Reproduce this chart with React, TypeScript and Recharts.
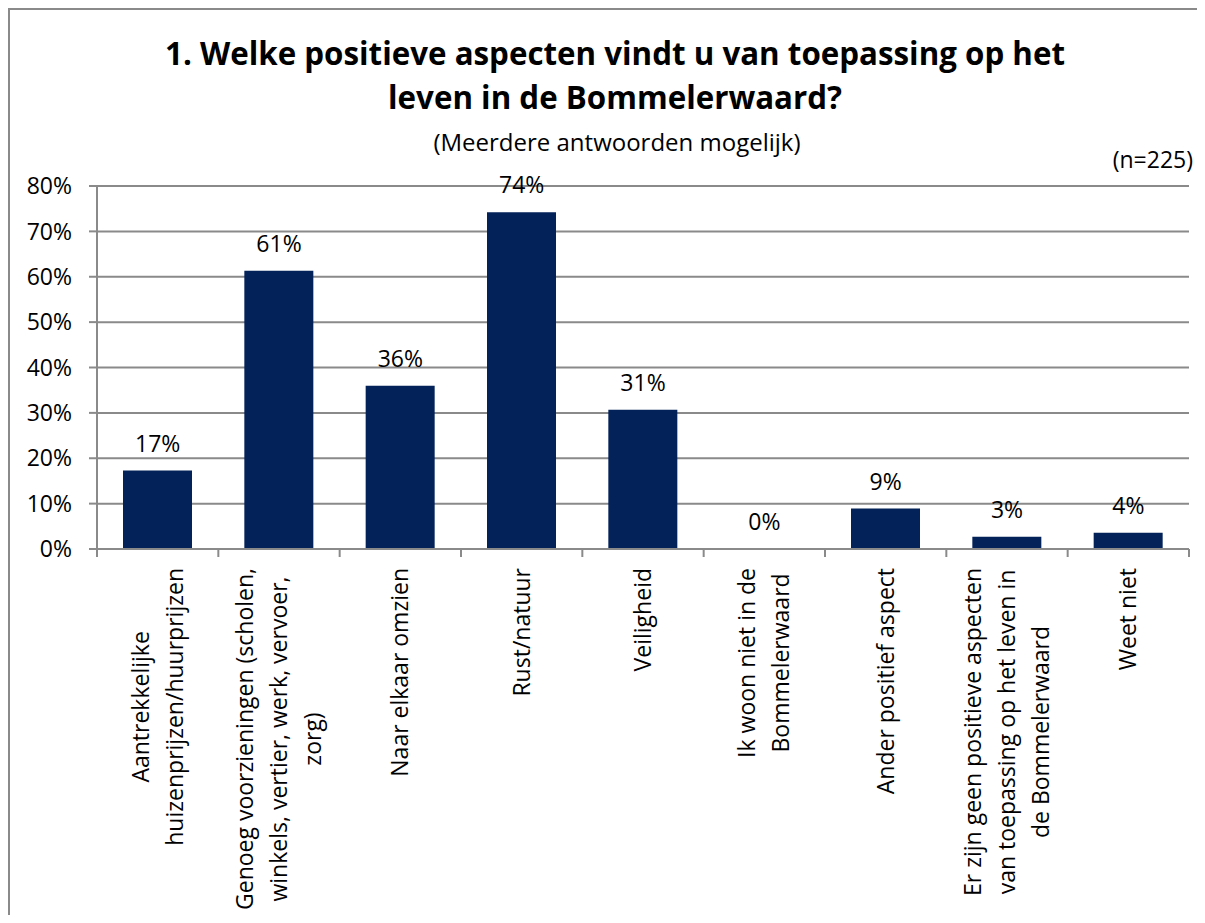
import React from "react";
import { ComposedChart, Bar, Line, XAxis, YAxis, CartesianGrid, LabelList } from "recharts";

// answers (one bar each), n = 225
const categories = [
  "Aantrekkelijke huizenprijzen/huurprijzen",
  "Genoeg voorzieningen (scholen, winkels, vertier, werk, vervoer, zorg)",
  "Naar elkaar omzien",
  "Rust/natuur",
  "Veiligheid",
  "Ik woon niet in de Bommelerwaard",
  "Ander positief aspect",
  "Er zijn geen positieve aspecten van toepassing op het leven in de Bommelerwaard",
  "Weet niet",
];

// how each category label wraps in the original
const labelLines = [
  ["Aantrekkelijke", "huizenprijzen/huurprijzen"],
  ["Genoeg voorzieningen (scholen,", "winkels, vertier, werk, vervoer,", "zorg)"],
  ["Naar elkaar omzien"],
  ["Rust/natuur"],
  ["Veiligheid"],
  ["Ik woon niet in de", "Bommelerwaard"],
  ["Ander positief aspect"],
  ["Er zijn geen positieve aspecten", "van toepassing op het leven in", "de Bommelerwaard"],
  ["Weet niet"],
];

const shares = [17.3, 61.3, 36.0, 74.2, 30.7, 0, 8.9, 2.7, 3.6];
const yTicks = [0, 10, 20, 30, 40, 50, 60, 70, 80];

const rows = categories.map((name, i) => ({ name, share: shares[i] }));

const FONT = '"Open Sans", sans-serif';
const GRID = "#8a8a8a";
const BAR = "#022259";
const TICK_SIZE = 23;

let ctx: CanvasRenderingContext2D | null = null;
function textWidth(s: string) {
  if (!ctx) ctx = document.createElement("canvas").getContext("2d");
  if (!ctx) return s.length * TICK_SIZE * 0.5;
  ctx.font = `${TICK_SIZE}px "Open Sans"`;
  return ctx.measureText(s).width;
}

function CategoryTick(props: any) {
  const { x, y, payload } = props;
  const idx = categories.indexOf(payload.value);
  const lines = labelLines[idx] || [payload.value];
  const half = payload.offset || 60.67;
  const widest = Math.max(...lines.map(textWidth));
  const n = lines.length;
  return (
    <g>
      <line x1={x - half} x2={x - half} y1={y} y2={y + 8} stroke={GRID} strokeWidth={2} />
      {idx === categories.length - 1 && (
        <line x1={x + half} x2={x + half} y1={y} y2={y + 8} stroke={GRID} strokeWidth={2} />
      )}
      <g transform={`translate(${x},${y + 19}) rotate(-90)`}>
        {lines.map((line, i) => (
          <text
            key={i}
            x={-widest / 2}
            y={(i - (n - 1) / 2) * 34}
            dy="0.35em"
            textAnchor="middle"
            fontFamily={FONT}
            fontSize={TICK_SIZE}
            fill="#000"
          >
            {line}
          </text>
        ))}
      </g>
    </g>
  );
}

export default function App() {
  return (
    <div
      style={{
        position: "relative",
        width: 1197,
        height: 907,
        overflow: "hidden",
        background: "#fff",
        fontFamily: FONT,
        color: "#000",
      }}
    >
      {/* frame: only the left and top edges fall inside the window */}
      <div style={{ position: "absolute", left: 0, top: 0, width: 2, height: 907, background: GRID }} />
      <div style={{ position: "absolute", left: 0, top: 0, width: 1197, height: 2, background: GRID }} />
      <div
        style={{
          position: "absolute",
          left: 0,
          top: 23,
          width: 1214,
          textAlign: "center",
          fontWeight: 700,
          fontSize: 31.3,
          lineHeight: "44px",
        }}
      >
        1. Welke positieve aspecten vindt u van toepassing op het
        <br />
        leven in de Bommelerwaard?
      </div>
      <div
        style={{
          position: "absolute",
          left: 0,
          top: 119,
          width: 1218,
          textAlign: "center",
          fontSize: 24,
          lineHeight: "30px",
        }}
      >
        (Meerdere antwoorden mogelijk)
      </div>
      <div
        style={{
          position: "absolute",
          left: 1094,
          top: 136,
          width: 91,
          textAlign: "right",
          fontSize: TICK_SIZE,
          lineHeight: "30px",
        }}
      >
        (n=225)
      </div>
      <div style={{ position: "absolute", left: 2, top: 2 }}>
        <ComposedChart
          width={1195}
          height={905}
          data={rows}
          margin={{ top: 176, right: 16, left: 0, bottom: 6 }}
          barCategoryGap={0}
        >
          <CartesianGrid vertical={false} stroke={GRID} strokeWidth={2} />
          <XAxis
            dataKey="name"
            interval={0}
            height={360}
            tickLine={false}
            tickSize={0}
            tickMargin={0}
            axisLine={{ stroke: GRID, strokeWidth: 2 }}
            tick={<CategoryTick />}
          />
          <YAxis
            width={87}
            domain={[0, 80]}
            ticks={yTicks}
            interval={0}
            tickFormatter={(v: number) => `${v}%`}
            tickSize={8}
            tickMargin={17}
            axisLine={{ stroke: GRID, strokeWidth: 2 }}
            tickLine={{ stroke: GRID, strokeWidth: 2 }}
            tick={{ fill: "#000", fontSize: TICK_SIZE, fontFamily: FONT }}
          />
          <Bar dataKey="share" fill={BAR} barSize={69} isAnimationActive={false} />
          {/* invisible series that carries the value labels, so 0% is labelled too */}
          <Line dataKey="share" stroke="none" dot={false} activeDot={false} isAnimationActive={false}>
            <LabelList
              dataKey="share"
              position="top"
              offset={19}
              formatter={(v: number) => `${Math.round(v)}%`}
              fill="#000"
              fontSize={TICK_SIZE}
              fontFamily={FONT}
            />
          </Line>
        </ComposedChart>
      </div>
    </div>
  );
}
